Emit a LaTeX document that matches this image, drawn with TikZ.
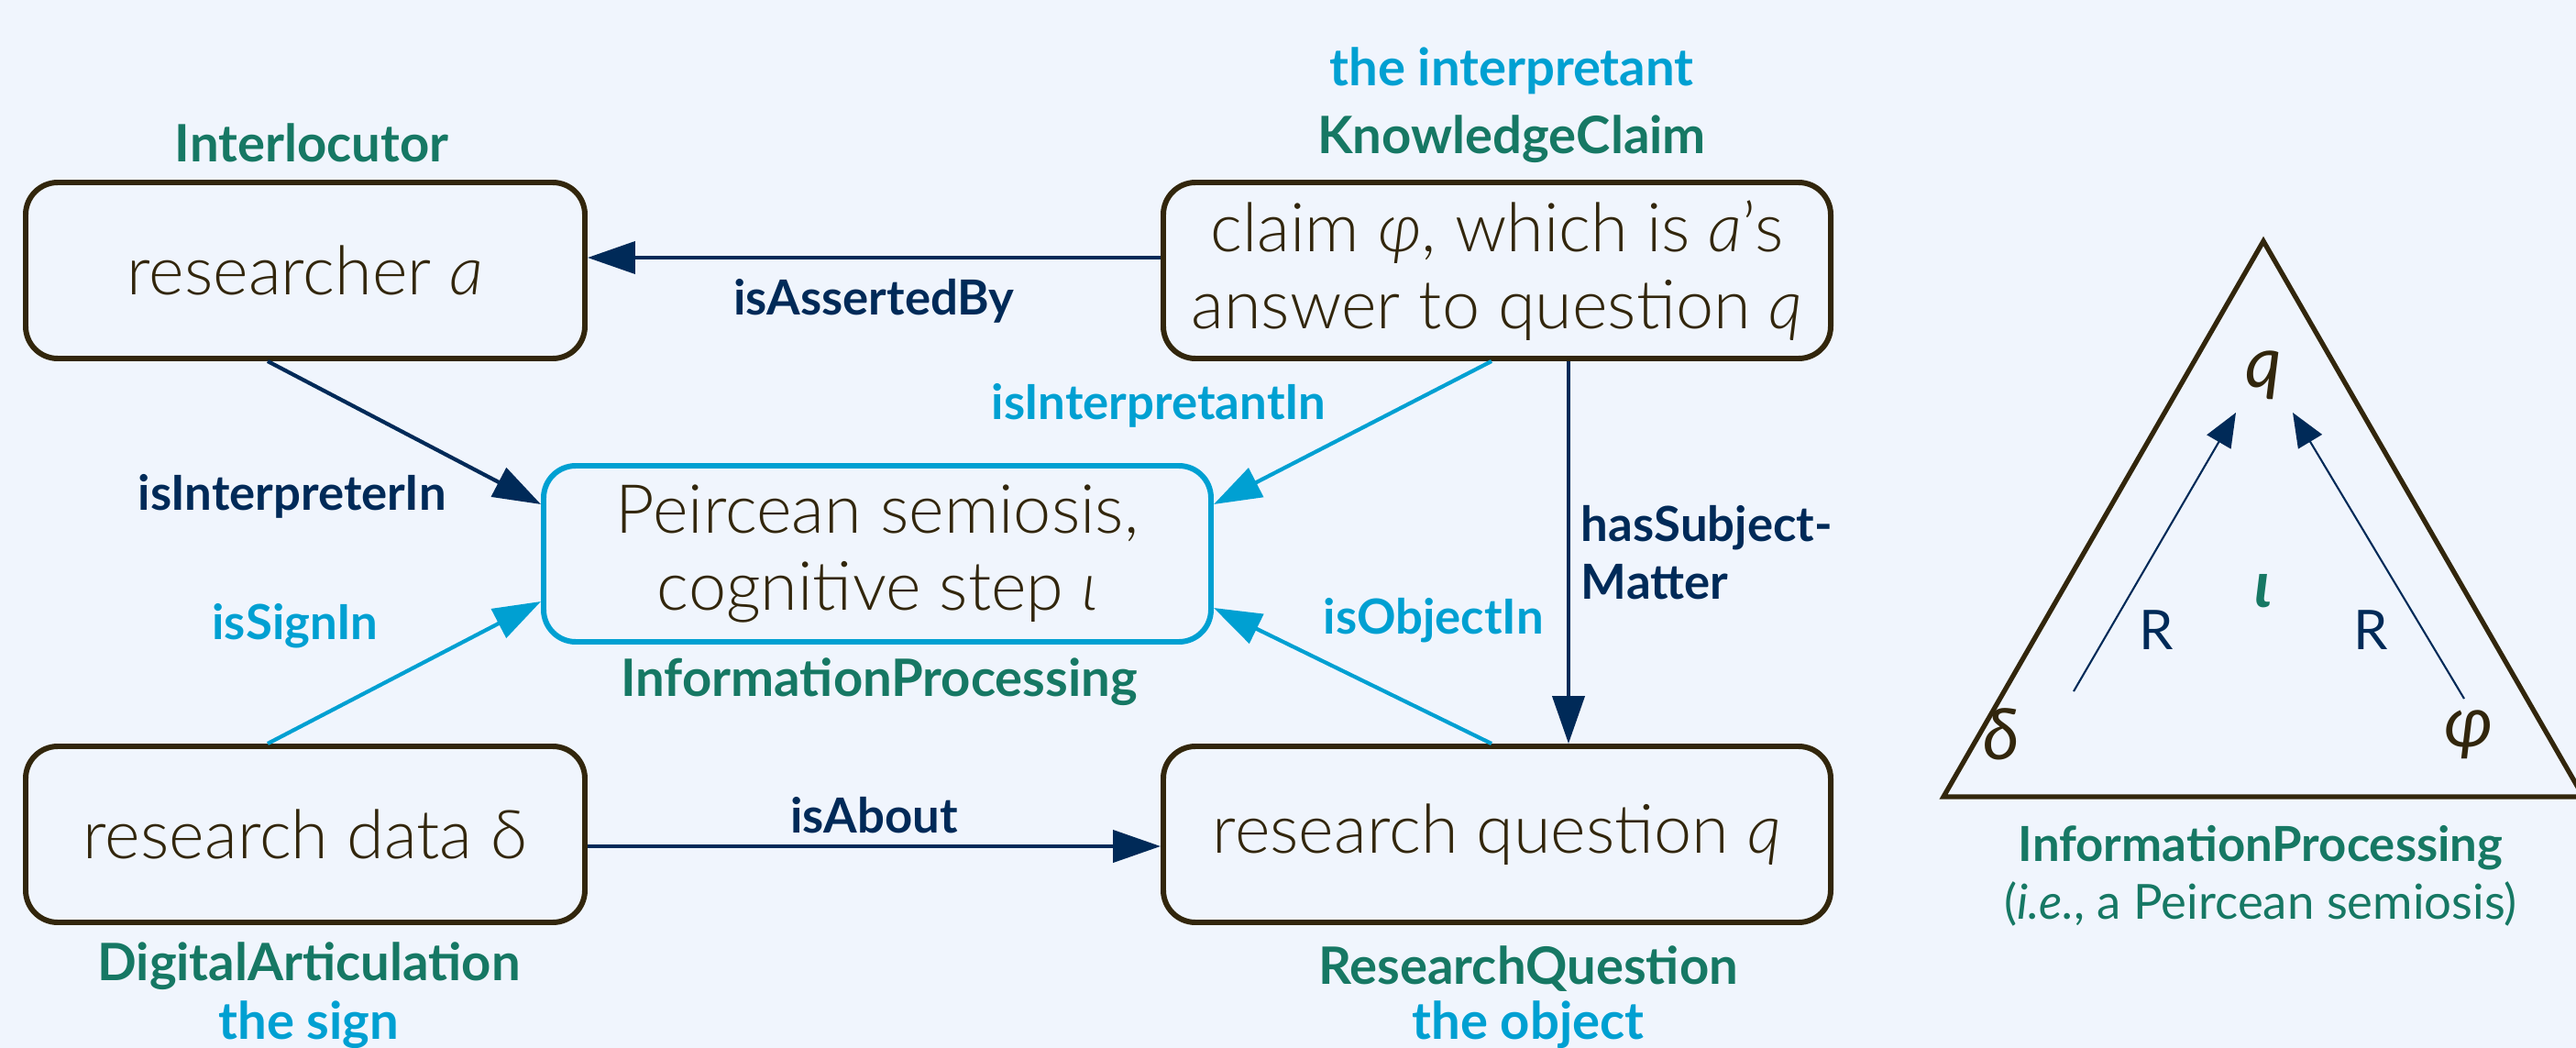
\documentclass[tikz,border=0pt]{standalone}
\usepackage{fontspec}
\setmainfont{Lato}
\newfontfamily\lightfont{Lato Light}
\usetikzlibrary{arrows.meta}
\definecolor{pagebg}{RGB}{240,245,253}
\definecolor{boxbrown}{RGB}{50,38,12}
\definecolor{typegreen}{RGB}{22,120,100}
\definecolor{rolecyan}{RGB}{0,160,210}
\definecolor{relnavy}{RGB}{0,42,88}
\tikzset{
  thing/.style={draw=boxbrown, line width=1.7pt, rounded corners=3.5mm, text=boxbrown,
    align=center, minimum height=1.92cm, font=\lightfont\fontsize{21}{24}\selectfont},
  smallthing/.style={thing, minimum width=6.1cm},
  widething/.style={thing, minimum width=7.28cm},
  process/.style={widething, draw=rolecyan},
  typelabel/.style={text=typegreen, font=\bfseries\fontsize{16}{19}\selectfont},
  rolelabel/.style={text=rolecyan, font=\bfseries\fontsize{16}{19}\selectfont},
  navyrel/.style={color=relnavy, line width=1.2pt, -{Triangle[length=5.2mm,width=3.5mm]}},
  cyanrel/.style={color=rolecyan, line width=1.2pt, -{Triangle[length=5.2mm,width=3.5mm]}},
  thinrel/.style={color=relnavy, line width=0.6pt, -{Triangle[length=3.7mm,width=3mm]}},
  navylabel/.style={text=relnavy, font=\bfseries\fontsize{15}{18}\selectfont},
  cyanlabel/.style={text=rolecyan, font=\bfseries\fontsize{15}{18}\selectfont},
  corner/.style={text=boxbrown, font=\fontsize{22}{26}\selectfont},
}
\begin{document}
\begin{tikzpicture}
  \useasboundingbox[fill=pagebg] (0,0) rectangle (28.1,-11.43);
  % participants of the semiosis
  \node[smallthing] (researcher) at (3.33,-2.95) {researcher \textit{a}};
  \node[widething] (claim) at (16.33,-2.95) {claim \textit{φ}, which is \textit{a}’s\\answer to question \textit{q}};
  \node[process] (semiosis) at (9.57,-6.04) {Peircean semiosis,\\cognitive step \textit{ι}};
  \node[smallthing] (data) at (3.33,-9.10) {research data δ};
  \node[widething] (question) at (16.33,-9.10) {research question \textit{q}};
  % class and role names
  \node[typelabel] (interlocutor) at (3.40,-1.56) {Interlocutor};
  \node[rolelabel] (interpretant) at (16.49,-0.77) {the interpretant};
  \node[typelabel] (knowledgeclaim) at (16.49,-1.52) {KnowledgeClaim};
  \node[typelabel] (infoproc) at (9.59,-7.44) {InformationProcessing};
  \node[typelabel] (digart) at (3.37,-10.54) {DigitalArticulation};
  \node[rolelabel] (sign) at (3.37,-11.18) {the sign};
  \node[typelabel] (resquestion) at (16.67,-10.57) {ResearchQuestion};
  \node[rolelabel] (object) at (16.67,-11.18) {the object};
  % relations
  \path[navyrel] ([yshift=1.4mm]claim.west) edge node[navylabel, below=1mm] {isAssertedBy} ([yshift=1.4mm]researcher.east);
  \path[navyrel] ([xshift=-4.1mm]researcher.south) edge node[navylabel, pos=0.7, anchor=north east] {isInterpreterIn} ([yshift=5.4mm]semiosis.west);
  \path[cyanrel] ([xshift=-0.6mm]claim.south) edge node[cyanlabel, pos=0.55, anchor=south east] {isInterpretantIn} ([yshift=5.4mm]semiosis.east);
  \path[cyanrel] ([xshift=-4.1mm]data.north) edge node[cyanlabel, pos=0.45, anchor=south east, yshift=2mm] {isSignIn} ([yshift=-5.2mm]semiosis.west);
  \path[cyanrel] ([xshift=-0.6mm]question.north) edge node[cyanlabel, pos=0.65, anchor=south west] {isObjectIn} ([yshift=-5.9mm]semiosis.east);
  \path[navyrel] ([xshift=7.8mm]claim.south) edge node[navylabel, right, align=left] {hasSubject-\\Matter} ([xshift=7.8mm]question.north);
  \path[navyrel] ([yshift=-1.3mm]data.east) edge node[navylabel, above] {isAbout} ([yshift=-1.3mm]question.west);
  % the semiotic triangle
  \draw[boxbrown, line width=1.5pt] (24.69,-2.63) -- (21.20,-8.69) -- (28.18,-8.69) -- cycle;
  \node[corner] (q) at (24.69,-4.09) {\textit{q}};
  \node[corner] (delta) at (21.83,-8.01) {\textit{δ}};
  \node[corner] (phi) at (26.93,-8.01) {\textit{φ}};
  \node[text=typegreen, font=\bfseries\fontsize{20}{24}\selectfont] (iota) at (24.69,-6.45) {\textit{ι}};
  \path[thinrel] ([shift={(0.79,0.47)}]delta.center) edge node[text=relnavy, font=\fontsize{17}{20}\selectfont, pos=0.22, right=2mm] {R} ([shift={(-0.30,-0.41)}]q.center);
  \path[thinrel] ([shift={(-0.05,0.39)}]phi.center) edge node[text=relnavy, font=\fontsize{17}{20}\selectfont, pos=0.24, left=2.5mm] {R} ([shift={(0.32,-0.41)}]q.center);
  \node[typelabel, font=\bfseries\fontsize{15}{18}\selectfont] (infoproctwo) at (24.66,-9.25) {InformationProcessing};
  \node[text=typegreen, font=\fontsize{15}{18}\selectfont] (semiosisnote) at (24.66,-9.86) {(\textit{i.e.}, a Peircean semiosis)};
\end{tikzpicture}
\end{document}
